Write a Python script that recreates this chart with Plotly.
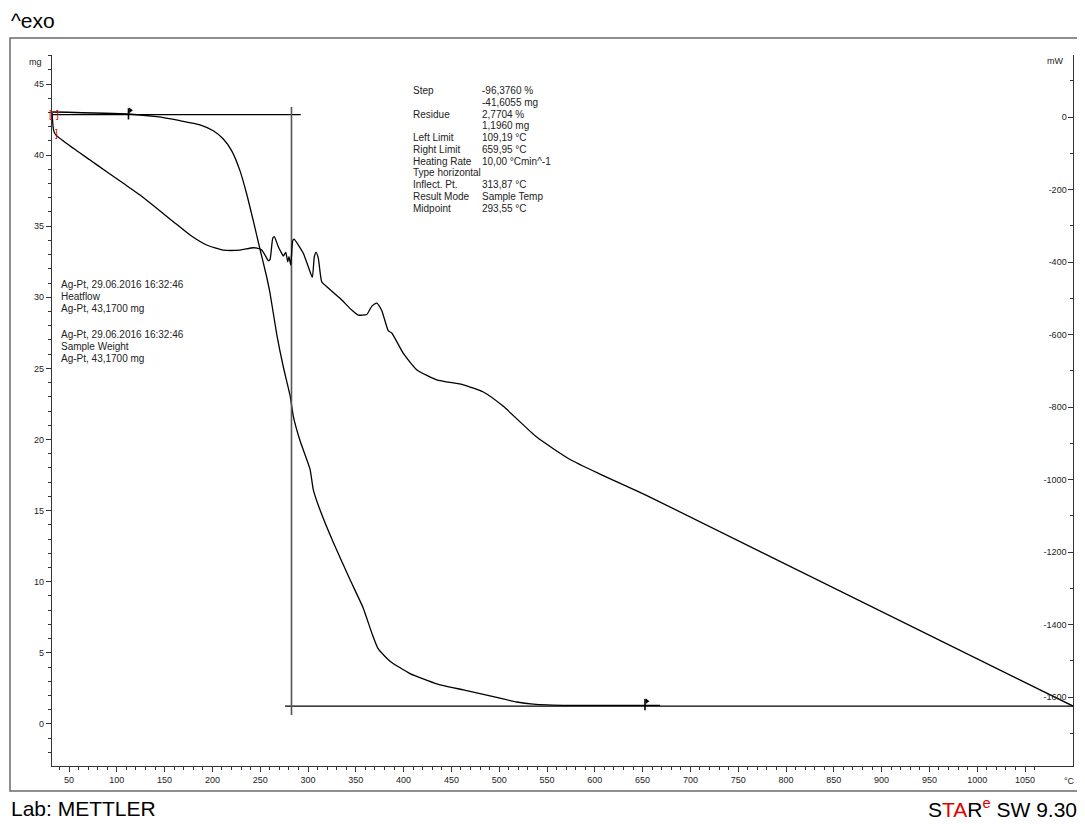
import plotly.graph_objects as go

# ---------------- data ----------------
# Sample weight (TGA), mg vs temperature °C
temp_tga = [32.3, 112.0, 141.7, 166.1, 187.0, 200.9, 211.4, 220.2, 228.9, 235.9, 242.8,
            249.8, 256.1, 260.3, 267.3, 274.2, 281.2, 284.6, 291.6, 302.1, 305.5, 312.6,
            326.5, 343.9, 357.8, 366.6, 373.5, 385.8, 406.7, 434.6, 462.5, 490.4, 518.3,
            535.7, 574.1, 668.2]
weight_mg = [43.03, 42.89, 42.70, 42.42, 42.13, 41.71, 41.13, 40.30, 38.89, 37.25, 35.37,
             33.38, 31.62, 30.28, 27.40, 25.10, 23.10, 21.65, 19.93, 17.92, 16.48, 15.04,
             12.75, 10.15, 8.14, 6.42, 5.27, 4.41, 3.54, 2.82, 2.39, 1.97, 1.54,
             1.39, 1.30, 1.30]

# Heat flow (DSC), mW vs temperature °C
temp_dsc = [32.3, 33.8, 36.4, 54.5, 72.0, 89.4, 106.8, 124.3, 141.7, 159.1, 176.6, 194.0,
            211.4, 228.9, 242.8, 249.8, 251.6, 255.0, 258.5, 260.3, 263.1, 264.7, 268.9,
            272.5, 274.2, 276.7, 278.8, 280.1, 281.9, 284.0, 285.4, 289.9, 295.1, 300.3,
            304.5, 306.6, 308.4, 310.8, 314.3, 319.6, 333.5, 345.7, 352.6, 361.4, 366.6,
            371.9, 377.1, 384.0, 387.6, 399.7, 413.7, 434.6, 462.5, 483.4, 504.3, 539.2,
            574.1, 605.4, 657.7, 1100.2]
heatflow_mw = [11.0, -36.0, -50.0, -86.3, -118.6, -150.9, -182.9, -215.2, -251.9, -288.8,
               -325.5, -353.1, -366.9, -366.9, -360.6, -364.1, -366.9, -380.7, -396.4,
               -392.6, -334.6, -330.2, -357.8, -376.0, -383.4, -373.2, -399.2, -385.4,
               -408.3, -341.2, -336.6, -353.1, -376.0, -413.0, -442.2, -385.4, -373.2,
               -389.8, -454.3, -468.1, -500.1, -532.4, -546.2, -544.8, -522.2, -513.1,
               -533.5, -589.8, -595.6, -651.9, -696.8, -725.0, -738.5, -758.6, -798.1,
               -882.8, -944.6, -984.8, -1048.3, -1624.8]

# Step evaluation (horizontal baselines, vertical midpoint line)
step_upper_mg = 42.85
step_upper_temp = [32.2, 292.4]
step_lower_mg = 1.25
step_lower_temp = [276.0, 1100.2]
midpoint_temp = 282.7
midpoint_mg_span = [0.63, 43.38]
limit_temps = [112.2, 652.5]
limit_mg = [42.9, 1.35]

eval_labels = ["Step", "", "Residue", "", "Left Limit", "Right Limit", "Heating Rate",
               "Type horizontal", "Inflect. Pt.", "Result Mode", "Midpoint"]
eval_values = ["-96,3760 %", "-41,6055 mg", "2,7704 %", "1,1960 mg", "109,19 °C",
               "659,95 °C", "10,00 °Cmin^-1", "", "313,87 °C", "Sample Temp", "293,55 °C"]
curve_labels = ["Ag-Pt, 29.06.2016 16:32:46", "Heatflow", "Ag-Pt, 43,1700 mg", "",
                "Ag-Pt, 29.06.2016 16:32:46", "Sample Weight", "Ag-Pt, 43,1700 mg"]

x_ticks = list(range(50, 1051, 50))
mg_ticks = list(range(0, 46, 5))
mw_ticks = list(range(-1600, 1, 200))

# ---------------- layout geometry ----------------
# page is 1085x824; the html body adds an 8px margin, so the figure is
# drawn 8px smaller and all page coordinates are shifted by that offset.
OFF = 8
W, H = 1085 - OFF, 824 - OFF
PLOT_L, PLOT_R, PLOT_T, PLOT_B = 52, 1073, 55, 766      # page pixels
L, T = PLOT_L - OFF, PLOT_T - OFF
R, B = W - (PLOT_R - OFF), H - (PLOT_B - OFF)
PW, PH = PLOT_R - PLOT_L, PLOT_B - PLOT_T


def pxx(x):
    return (x - PLOT_L) / PW


def pxy(y):
    return (PLOT_B - y) / PH


FONT = "Liberation Sans, Arial, sans-serif"
INK = "#222"

fig = go.Figure()

fig.add_trace(go.Scatter(x=temp_dsc, y=heatflow_mw, yaxis="y2", mode="lines",
                         line=dict(color="black", width=1.3, shape="spline", smoothing=0.5),
                         name="Heatflow"))
fig.add_trace(go.Scatter(x=temp_tga, y=weight_mg, mode="lines",
                         line=dict(color="black", width=1.3, shape="spline", smoothing=0.5),
                         name="Sample Weight"))
fig.add_trace(go.Scatter(x=step_upper_temp, y=[step_upper_mg] * 2, mode="lines",
                         line=dict(color="black", width=1.1)))
fig.add_trace(go.Scatter(x=step_lower_temp, y=[step_lower_mg] * 2, mode="lines",
                         line=dict(color="black", width=1.1)))
fig.add_trace(go.Scatter(x=[midpoint_temp] * 2, y=midpoint_mg_span, mode="lines",
                         line=dict(color="#555", width=1.6)))
fig.add_trace(go.Scatter(x=limit_temps, y=limit_mg, mode="markers",
                         marker=dict(symbol="line-ns", size=8,
                                     line=dict(color="black", width=1.6))))
fig.add_trace(go.Scatter(x=[t + 2 for t in limit_temps], y=[m + 0.25 for m in limit_mg],
                         mode="markers",
                         marker=dict(symbol="triangle-right", size=5, color="black")))

ann = []
for i, (lab, val) in enumerate(zip(eval_labels, eval_values)):
    yy = 90.7 + i * 11.75
    if lab:
        ann.append(dict(x=pxx(411), y=pxy(yy), text=lab))
    if val:
        ann.append(dict(x=pxx(480), y=pxy(yy), text=val))
curve_y = [284, 296, 308, 321, 334, 346, 358]
for lab, yy in zip(curve_labels, curve_y):
    if lab:
        ann.append(dict(x=pxx(59), y=pxy(yy), text=lab))
for a in ann:
    a.update(xref="paper", yref="paper", xanchor="left", yanchor="middle",
             showarrow=False, font=dict(family=FONT, size=10, color=INK))

extra = [
    dict(x=pxx(44), y=pxy(62), text="mg", xanchor="right",
         font=dict(family=FONT, size=9, color=INK)),
    dict(x=pxx(1055), y=pxy(61), text="mW", xanchor="center",
         font=dict(family=FONT, size=9, color=INK)),
    dict(x=pxx(1069), y=pxy(781), text="°C", xanchor="center",
         font=dict(family=FONT, size=9, color=INK)),
    dict(x=pxx(9), y=pxy(20), text="^exo", xanchor="left",
         font=dict(family=FONT, size=21, color="black")),
    dict(x=pxx(9), y=pxy(808), text="Lab: METTLER", xanchor="left",
         font=dict(family=FONT, size=21, color="black")),
    dict(x=pxx(1079), y=pxy(808),
         text='S<span style="color:#e00000">TA</span>R'
              '<sup><span style="color:#e00000">e</span></sup> SW 9.30',
         xanchor="right", font=dict(family=FONT, size=21, color="black")),
    dict(x=pxx(50.5), y=pxy(115), text="[", xanchor="center",
         font=dict(family=FONT, size=10, color="#e00000")),
    dict(x=pxx(57), y=pxy(115), text="]", xanchor="center",
         font=dict(family=FONT, size=10, color="#e00000")),
    dict(x=pxx(56.5), y=pxy(133), text="]", xanchor="center",
         font=dict(family=FONT, size=10, color="#e00000")),
]
for a in extra:
    a.update(xref="paper", yref="paper", yanchor="middle", showarrow=False)
ann += extra

axis_common = dict(showgrid=False, zeroline=False, showline=True, linecolor="#333",
                   linewidth=1.3, tickcolor="#333", tickwidth=1,
                   tickfont=dict(family=FONT, size=9, color=INK))

fig.update_layout(
    width=W, height=H,
    margin=dict(l=L, r=R, t=T, b=B, pad=0),
    paper_bgcolor="white", plot_bgcolor="white",
    showlegend=False,
    annotations=ann,
    shapes=[dict(type="rect", xref="paper", yref="paper",
                 x0=pxx(10), x1=pxx(1083), y0=pxy(791), y1=pxy(38),
                 line=dict(color="#6a6a6a", width=1.5), layer="below")],
    xaxis=dict(range=[32.2, 1100.2], tickmode="array", tickvals=x_ticks,
               ticktext=[str(v) for v in x_ticks], ticks="outside", ticklen=5,
               minor=dict(tickmode="linear", tick0=0, dtick=10, ticks="outside",
                          ticklen=3, tickcolor="#333", showgrid=False),
               **axis_common),
    yaxis=dict(range=[-2.96, 47.04], tickmode="array", tickvals=mg_ticks,
               ticktext=[str(v) for v in mg_ticks], ticks="outside", ticklen=5,
               minor=dict(tickmode="linear", tick0=0, dtick=1, ticks="outside",
                          ticklen=3, tickcolor="#333", showgrid=False),
               **axis_common),
    yaxis2=dict(range=[-1790, 171], overlaying="y", side="right", anchor="x",
                tickmode="array", tickvals=mw_ticks,
                ticktext=[str(v) for v in mw_ticks],
                ticks="inside", ticklabelposition="inside", ticklen=5,
                minor=dict(tickmode="linear", tick0=0, dtick=100, ticks="inside",
                           ticklen=3, tickcolor="#333", showgrid=False),
                **axis_common),
)

fig.write_html("out.html")
